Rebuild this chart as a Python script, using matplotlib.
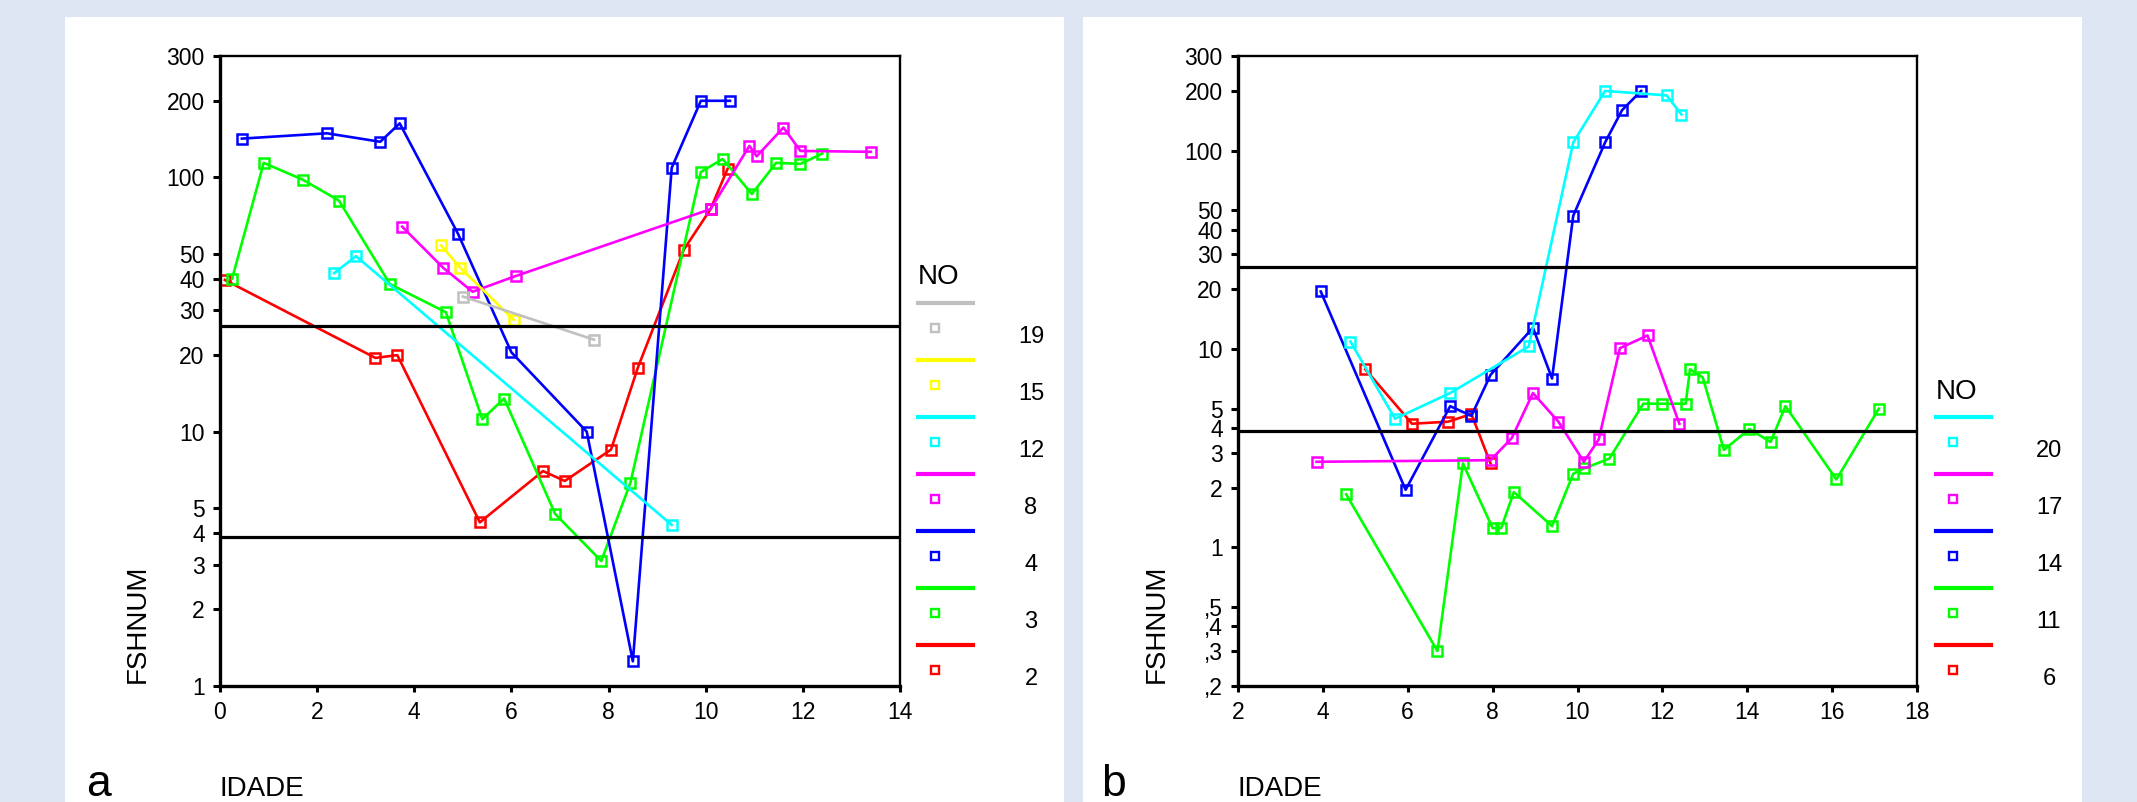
import numpy as np
import matplotlib
matplotlib.use("Agg")
import matplotlib.pyplot as plt
from matplotlib.lines import Line2D
from matplotlib.patches import Rectangle

plt.rcParams['font.family'] = ['Liberation Sans', 'DejaVu Sans']

# panel a: FSHNUM against IDADE, one series per case number (NO)
a_x_19 = [5.0, 7.7]
a_y_19 = [34, 23]
a_x_15 = [4.55, 4.95, 6.05]
a_y_15 = [54, 44, 27.5]
a_x_12 = [2.35, 2.8, 9.3]
a_y_12 = [42, 49, 4.3]
a_x_8 = [3.75, 4.6, 5.2, 6.1, 10.1, 10.9, 11.05, 11.6, 11.95, 13.4]
a_y_8 = [64, 44, 35.5, 41, 75, 133, 121, 157, 127, 126]
a_x_4 = [0.45, 2.2, 3.3, 3.7, 4.9, 6.0, 7.55, 8.5, 9.3, 9.9, 10.5]
a_y_4 = [142, 149, 138, 163, 60, 20.5, 10, 1.25, 109, 200, 200]
a_x_3 = [0.25, 0.9, 1.7, 2.45, 3.5, 4.65, 5.4, 5.85, 6.9, 7.85, 8.45,
         9.9, 10.35, 10.95, 11.45, 11.95, 12.4]
a_y_3 = [40, 114, 98, 81, 38, 29.5, 11.2, 13.5, 4.75, 3.1, 6.3,
         105, 118, 86, 114, 113, 124]
a_x_2 = [0.1, 3.2, 3.65, 5.35, 6.65, 7.1, 8.05, 8.6, 9.55, 10.1, 10.45]
a_y_2 = [39.5, 19.5, 20, 4.4, 7.0, 6.4, 8.5, 17.8, 52, 75, 108]

# panel b
b_x_20 = [4.65, 5.7, 7.0, 8.85, 9.9, 10.65, 12.1, 12.45]
b_y_20 = [10.9, 4.45, 6.0, 10.3, 110, 200, 190, 152]
b_x_17 = [3.85, 7.95, 8.45, 8.95, 9.55, 10.15, 10.5, 11.0, 11.65, 12.4]
b_y_17 = [2.7, 2.75, 3.55, 6.0, 4.3, 2.7, 3.5, 10.1, 11.7, 4.2]
b_x_14 = [3.95, 5.95, 7.0, 7.5, 7.95, 8.95, 9.4, 9.9, 10.65, 11.05, 11.5]
b_y_14 = [19.5, 1.95, 5.15, 4.6, 7.4, 12.8, 7.1, 47, 110, 160, 200]
b_x_11 = [4.55, 6.7, 7.3, 8.0, 8.2, 8.5, 9.4, 9.9, 10.15, 10.75, 11.55,
          12.0, 12.55, 12.65, 12.95, 13.45, 14.05, 14.55, 14.9, 16.1, 17.1]
b_y_11 = [1.85, 0.3, 2.65, 1.25, 1.25, 1.9, 1.28, 2.35, 2.5, 2.8, 5.3,
          5.3, 5.3, 7.9, 7.2, 3.1, 3.95, 3.4, 5.15, 2.2, 5.0]
b_x_6 = [5.0, 6.1, 6.95, 7.5, 7.95]
b_y_6 = [7.9, 4.2, 4.3, 4.7, 2.65]

# reference limits drawn as horizontal lines
ref_lines = [26, 3.85]

a_ticks = [1, 2, 3, 4, 5, 10, 20, 30, 40, 50, 100, 200, 300]
a_ticklabels = ['1', '2', '3', '4', '5', '10', '20', '30', '40', '50', '100', '200', '300']
b_ticks = [0.2, 0.3, 0.4, 0.5] + a_ticks
b_ticklabels = [',2', ',3', ',4', ',5'] + a_ticklabels

GREY, YELLOW, CYAN, MAGENTA = '#c0c0c0', '#ffff00', '#00ffff', '#ff00ff'
BLUE, GREEN, RED = '#0000ff', '#00ff00', '#ff0000'

series_a = [('19', a_x_19, a_y_19, GREY), ('15', a_x_15, a_y_15, YELLOW),
            ('12', a_x_12, a_y_12, CYAN), ('8', a_x_8, a_y_8, MAGENTA),
            ('4', a_x_4, a_y_4, BLUE), ('3', a_x_3, a_y_3, GREEN),
            ('2', a_x_2, a_y_2, RED)]
series_b = [('20', b_x_20, b_y_20, CYAN), ('17', b_x_17, b_y_17, MAGENTA),
            ('14', b_x_14, b_y_14, BLUE), ('11', b_x_11, b_y_11, GREEN),
            ('6', b_x_6, b_y_6, RED)]

W, H = 2137, 802
fig = plt.figure(figsize=(W / 100, H / 100), dpi=100, facecolor='#dfe6f3')


def fx(px):
    return px / W


def fy(py):
    return 1 - py / H


# white panels
for x0, x1 in [(65, 1064), (1083, 2082)]:
    fig.add_artist(Rectangle((fx(x0), 0), fx(x1) - fx(x0), fy(17),
                             transform=fig.transFigure, facecolor='white',
                             edgecolor='none', zorder=0))


def panel(left, right, xlim, xticks, ylim, yticks, yticklabels, series,
          letter, letter_x, ylab_x, leg_x, no_y):
    ax = fig.add_axes([fx(left), fy(686), fx(right) - fx(left), (686 - 56) / H])
    ax.set_facecolor('white')
    ax.set_yscale('log')
    for name, xs, ys, c in reversed(series):
        ax.plot(xs, ys, color=c, lw=1.9, marker='s', ms=7.5, mfc='none',
                mec=c, mew=1.8)
    for v in ref_lines:
        ax.axhline(v, color='black', lw=2.3, zorder=5)
    ax.set_xlim(*xlim)
    ax.set_ylim(*ylim)
    ax.set_xticks(xticks)
    ax.set_xticklabels([str(t) for t in xticks])
    ax.yaxis.set_major_locator(matplotlib.ticker.FixedLocator(yticks))
    ax.yaxis.set_minor_locator(matplotlib.ticker.NullLocator())
    ax.set_yticklabels(yticklabels)
    ax.tick_params(axis='y', length=5, width=2.2, pad=6, labelsize=16.5)
    ax.tick_params(axis='x', length=4, width=2.2, pad=7, labelsize=16.5)
    for s in ['left', 'bottom']:
        ax.spines[s].set_linewidth(2.4)
    for s in ['top', 'right']:
        ax.spines[s].set_linewidth(1.7)

    # axis titles sit in the panel margins
    fig.text(fx(ylab_x), fy(683), 'FSHNUM', rotation=90, fontsize=20,
             ha='center', va='bottom')
    fig.text(fx(left), fy(796), 'IDADE', fontsize=20, ha='left', va='baseline')
    fig.text(fx(letter_x), fy(796), letter, fontsize=32, ha='left', va='baseline')

    # hand-drawn legend block
    fig.text(fx(leg_x), fy(no_y), 'NO', fontsize=20, ha='left', va='center')
    n = len(series)
    for k, (name, xs, ys, c) in enumerate(series):
        ly = 645 - 57 * (n - 1 - k)
        fig.add_artist(Line2D([fx(leg_x), fx(leg_x + 55)], [fy(ly), fy(ly)],
                              color=c, lw=3, transform=fig.transFigure))
        fig.add_artist(Line2D([fx(leg_x + 17)], [fy(ly + 25)], marker='s',
                              ms=6, mfc='none', mec=c, mew=1.7, lw=0,
                              transform=fig.transFigure))
        fig.text(fx(leg_x + 113), fy(ly + 34), name, fontsize=17,
                 ha='center', va='center')
    return ax


panel(220, 900, (0, 14), list(range(0, 15, 2)), (1, 300), a_ticks, a_ticklabels,
      series_a, 'a', 86, 138, 918, 277)
panel(1238, 1917, (2, 18), list(range(2, 19, 2)), (0.2, 300), b_ticks, b_ticklabels,
      series_b, 'b', 1101, 1157, 1936, 392)

fig.savefig('out.png', dpi=100, facecolor=fig.get_facecolor())
